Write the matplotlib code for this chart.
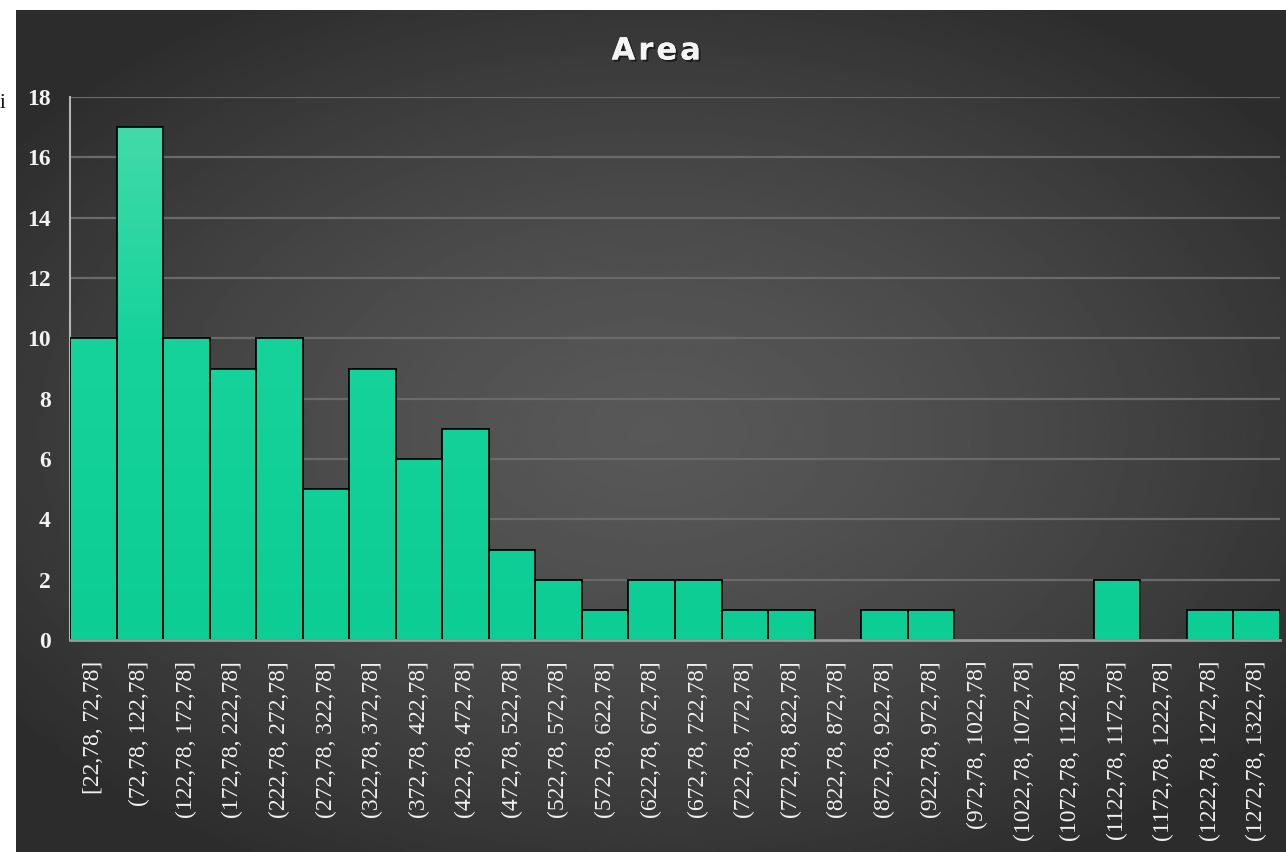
import numpy as np
import matplotlib
matplotlib.use("Agg")
import matplotlib.pyplot as plt
from matplotlib.colors import LinearSegmentedColormap
import matplotlib.patheffects as pe

# Histogram of areas, 26 bins of width 50 starting at 22,78
bin_labels = [
    "[22,78, 72,78]", "(72,78, 122,78]", "(122,78, 172,78]", "(172,78, 222,78]",
    "(222,78, 272,78]", "(272,78, 322,78]", "(322,78, 372,78]", "(372,78, 422,78]",
    "(422,78, 472,78]", "(472,78, 522,78]", "(522,78, 572,78]", "(572,78, 622,78]",
    "(622,78, 672,78]", "(672,78, 722,78]", "(722,78, 772,78]", "(772,78, 822,78]",
    "(822,78, 872,78]", "(872,78, 922,78]", "(922,78, 972,78]", "(972,78, 1022,78]",
    "(1022,78, 1072,78]", "(1072,78, 1122,78]", "(1122,78, 1172,78]", "(1172,78, 1222,78]",
    "(1222,78, 1272,78]", "(1272,78, 1322,78]",
]
counts = [10, 17, 10, 9, 10, 5, 9, 6, 7, 3, 2, 1, 2, 2, 1, 1, 0, 1, 1, 0, 0, 0, 2, 0, 1, 1]
y_ticks = [0, 2, 4, 6, 8, 10, 12, 14, 16, 18]

W, H = 1286, 852
fig = plt.figure(figsize=(W / 100, H / 100), dpi=100)
fig.patch.set_facecolor("white")

# Dark panel with a soft radial glow
bg = fig.add_axes([16 / W, 0, 1 - 16 / W, 1 - 10 / H])
bg.set_axis_off()
nx, ny = 400, 300
xx, yy = np.meshgrid(np.linspace(-1, 1, nx), np.linspace(-1, 1, ny))
r = np.sqrt((xx * 1.0) ** 2 + (yy * 1.05) ** 2)
r = np.clip(r / 1.25, 0, 1)
val = 0.345 - (0.345 - 0.175) * r ** 1.4
bg.imshow(val, cmap="gray", vmin=0, vmax=1, aspect="auto", extent=[0, 1, 0, 1],
          interpolation="bilinear")
bg.set_xlim(0, 1)
bg.set_ylim(0, 1)

# Plot area
left, right = 70 / W, 1280 / W
top, bottom = 1 - 97 / H, 1 - 640 / H
ax = fig.add_axes([left, bottom, right - left, top - bottom])
ax.patch.set_alpha(0)

x = np.arange(len(counts))
ax.set_xlim(-0.5, len(counts) - 0.5)
ax.set_ylim(0, 18)

for t in y_ticks[1:]:
    ax.axhline(t, color="#6a6a6a", lw=1.6, zorder=1)

bars = ax.bar(x, counts, width=1.0, color="#10d097", edgecolor="#0a0a0a",
              linewidth=1.3, zorder=3)

# Vertical shading of the bars: lighter towards the top of the tall bins
bar_cmap = LinearSegmentedColormap.from_list(
    "bars", [(0.0, "#0ccd94"), (10 / 18, "#16d39b"), (17 / 18, "#42daa9"), (1.0, "#48dcab")])
grad = np.linspace(0, 1, 256).reshape(-1, 1)
for b in bars:
    if b.get_height() <= 0:
        continue
    im = ax.imshow(grad, cmap=bar_cmap, vmin=0, vmax=1, origin="lower", aspect="auto",
                   extent=[-0.5, len(counts) - 0.5, 0, 18], zorder=3.5,
                   interpolation="bilinear")
    im.set_clip_path(b)
    edge = plt.Rectangle(b.get_xy(), b.get_width(), b.get_height(), fill=False,
                         edgecolor="#0a0a0a", linewidth=1.3, zorder=4)
    ax.add_patch(edge)

ax.set_xlim(-0.5, len(counts) - 0.5)
ax.set_ylim(0, 18)

for s in ["top", "right"]:
    ax.spines[s].set_visible(False)
ax.spines["left"].set_color("#b4b4b4")
ax.spines["left"].set_linewidth(1.5)
ax.spines["bottom"].set_color("#9a9a9a")
ax.spines["bottom"].set_linewidth(2.0)
ax.spines["bottom"].set_zorder(5)

serif = ["Liberation Serif", "DejaVu Serif"]
ax.set_yticks(y_ticks)
ax.set_yticklabels([str(v) for v in y_ticks], family=serif, fontsize=17,
                   color="#f2f2f2", fontweight="bold")
ax.set_xticks(x)
ax.set_xticklabels(bin_labels, rotation=90, family=serif, fontsize=17,
                   color="#f0f0f0", va="top", ha="center")
ax.tick_params(axis="both", length=0)
ax.tick_params(axis="y", pad=14)
ax.tick_params(axis="x", pad=15)

# Title
fig.text(656 / W, 1 - 51 / H, "\u200a".join("Area"), ha="center", va="center",
         fontsize=22, fontweight="bold", color="#f4f4f4", family="DejaVu Sans",
         path_effects=[pe.withSimplePatchShadow(offset=(1.5, -1.5), shadow_rgbFace="#111111",
                                                alpha=0.7), pe.Normal()])

# Stray label fragment at the left margin
fig.text(0.0, 1 - 103 / H, "i", ha="left", va="center", fontsize=15,
         family=serif, color="#111111")

fig.savefig("out.png", dpi=100, facecolor=fig.get_facecolor())
